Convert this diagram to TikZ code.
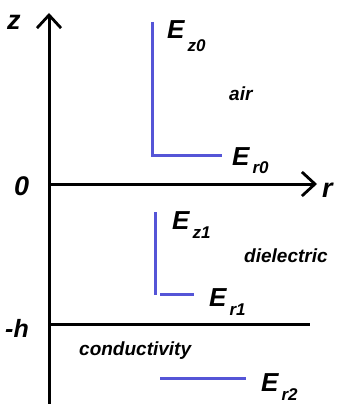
\documentclass[tikz,border=0pt]{standalone}
\usepackage{fontspec}
\setmainfont{Liberation Sans}
\usepackage{xcolor}
\usepackage{tikz}
\usetikzlibrary{arrows.meta,positioning}

\definecolor{fieldblue}{RGB}{85,85,215}
\newcommand{\fieldlab}[2][10pt]{E\kern3pt\raisebox{-#1}{\fontsize{17}{17}\selectfont #2}}

\begin{document}
\begin{tikzpicture}[
  x=1pt, y=-1pt,
  axis/.style={line width=3pt, -{Straight Barb[length=13pt,width=24pt,line width=2.8pt]}},
  bound/.style={line width=3pt},
  field/.style={draw=fieldblue, line width=3pt},
  lbl/.style={font=\fontsize{26}{26}\selectfont\bfseries\itshape, inner sep=0pt, anchor=base west},
  ax/.style={font=\fontsize{27}{27}\selectfont\bfseries\itshape, inner sep=0pt, anchor=base west},
  med/.style={font=\fontsize{19}{19}\selectfont\bfseries\itshape, inner sep=0pt, anchor=base west}
]
  \useasboundingbox (0,0) rectangle (339,404);
  % axes
  \coordinate (o) at (49,184);
  \coordinate (zbot) at (49,404);
  \coordinate (ztop) at (49,13);
  \coordinate (rend) at (317,184);
  \draw[axis] (zbot) -- (ztop);
  \draw[axis] (o) -- (rend);
  \node[ax] (zlbl) at (7,30) {z};
  \node[ax] (olbl) at (14,195) {0};
  \node[ax] (rlbl) at (322,197) {r};
  \node[ax, font=\fontsize{25}{25}\selectfont\bfseries\itshape] (hlbl) at (5,337) {-h};
  % interface
  \coordinate (hl) at (49,324);
  \coordinate (hr) at (310,324);
  \draw[bound] (hl) -- (hr);
  % air
  \coordinate (a1) at (152,22);
  \coordinate (a2) at (152,155);
  \coordinate (a3) at (222,155);
  \draw[field] (a1) -- (a2) -- (a3);
  \node[lbl] (ez0) at (167,39) {\fieldlab[13pt]{z0}};
  \node[lbl] (er0) at (232,165) {\fieldlab[8pt]{r0}};
  \node[med] (air) at (229,100) {air};
  % dielectric
  \coordinate (d1) at (155,212);
  \coordinate (d2) at (155,295);
  \coordinate (d3) at (160,294);
  \coordinate (d4) at (194,294);
  \draw[field] (d1) -- (d2);
  \draw[field] (d3) -- (d4);
  \node[lbl] (ez1) at (172,229) {\fieldlab[9pt]{z1}};
  \node[lbl] (er1) at (209,306) {\fieldlab[9pt]{r1}};
  \node[med] (diel) at (244,262) {dielectric};
  % conductor
  \coordinate (c1) at (160,378);
  \coordinate (c2) at (246,378);
  \draw[field] (c1) -- (c2);
  \node[lbl] (er2) at (261,391) {\fieldlab[9pt]{r2}};
  \node[med] (cond) at (79,355) {conductivity};
\end{tikzpicture}
\end{document}
